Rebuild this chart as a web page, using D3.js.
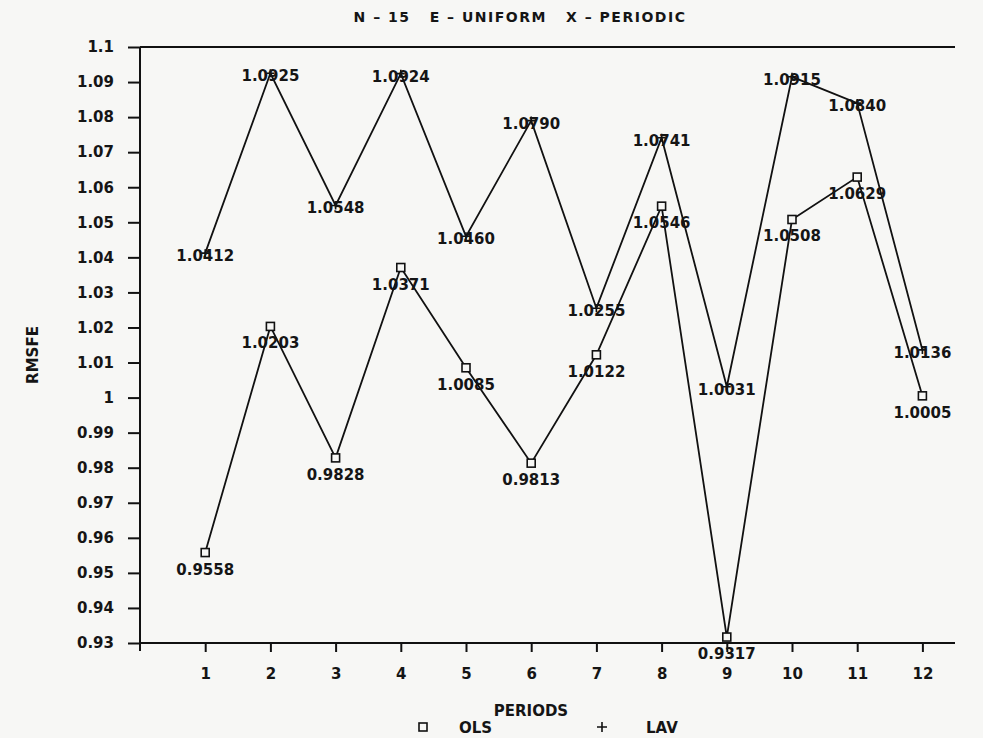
<!DOCTYPE html>
<html>
<head>
<meta charset="utf-8">
<script src="https://cdn.jsdelivr.net/npm/d3@7"></script>
<style>
  html, body { margin: 0; padding: 0; background: #f7f7f5; }
  svg { display: block; }
  text { fill: #151515; font-family: 'DejaVu Sans', sans-serif; font-weight: bold; }
</style>
</head>
<body>
<div id="chart"></div>
<script>
// Data
const periods = [1, 2, 3, 4, 5, 6, 7, 8, 9, 10, 11, 12];
const olsValues = [0.9558, 1.0203, 0.9828, 1.0371, 1.0085, 0.9813, 1.0122, 1.0546, 0.9317, 1.0508, 1.0629, 1.0005];
const lavValues = [1.0412, 1.0925, 1.0548, 1.0924, 1.0460, 1.0790, 1.0255, 1.0741, 1.0031, 1.0915, 1.0840, 1.0136];
const yTicks = [0.93, 0.94, 0.95, 0.96, 0.97, 0.98, 0.99, 1, 1.01, 1.02, 1.03, 1.04, 1.05, 1.06, 1.07, 1.08, 1.09, 1.1];
const TITLE = 'N \u2013 15   E \u2013 UNIFORM   X \u2013 PERIODIC';

const W = 983, H = 738;
const plot = { left: 140, right: 955, top: 47, bottom: 643 };
const FONT = '15px';

const svg = d3.select('#chart').append('svg')
  .attr('width', W).attr('height', H);

const x = d3.scaleLinear().domain([0, 12.5]).range([plot.left, plot.right]);
const y = d3.scaleLinear().domain([0.93, 1.1]).range([plot.bottom, plot.top]);

// Title
svg.append('text')
  .attr('x', 520).attr('y', 22)
  .attr('text-anchor', 'middle')
  .attr('font-size', '14px')
  .attr('letter-spacing', '1.5px')
  .attr('xml:space', 'preserve')
  .text(TITLE);

// Y axis
const yAxis = svg.append('g')
  .attr('transform', `translate(${plot.left},0)`)
  .call(d3.axisLeft(y).tickValues(yTicks)
    .tickFormat(d => String(+d.toFixed(2)))
    .tickSizeInner(12).tickSizeOuter(0).tickPadding(14));
yAxis.attr('font-family', null).attr('font-size', null);
yAxis.selectAll('text').attr('font-size', FONT).attr('fill', '#151515');
yAxis.selectAll('line, path').attr('stroke', '#111').attr('stroke-width', 2);
yAxis.select('.domain').attr('d', `M0,${plot.top}V${plot.bottom + 8}`);

// X axis
const xAxis = svg.append('g')
  .attr('transform', `translate(0,${plot.bottom})`)
  .call(d3.axisBottom(x).tickValues(periods)
    .tickSizeInner(9).tickSizeOuter(0).tickPadding(16));
xAxis.attr('font-family', null).attr('font-size', null);
xAxis.selectAll('text').attr('font-size', FONT).attr('fill', '#151515');
xAxis.selectAll('line, path').attr('stroke', '#111').attr('stroke-width', 2);
xAxis.select('.domain').attr('d', `M${plot.left},0H${plot.right}`);

// Top frame line
svg.append('line')
  .attr('x1', plot.left).attr('x2', plot.right)
  .attr('y1', y(1.1)).attr('y2', y(1.1))
  .attr('stroke', '#111').attr('stroke-width', 2);

// Axis titles
svg.append('text')
  .attr('transform', `translate(38,355) rotate(-90)`)
  .attr('text-anchor', 'middle')
  .attr('font-size', FONT)
  .text('RMSFE');

svg.append('text')
  .attr('x', 531).attr('y', 716)
  .attr('text-anchor', 'middle')
  .attr('font-size', FONT)
  .text('PERIODS');

const line = d3.line().x((d, i) => x(periods[i])).y(d => y(d));

// LAV series
svg.append('path')
  .datum(lavValues)
  .attr('d', line)
  .attr('fill', 'none').attr('stroke', '#111').attr('stroke-width', 1.8);

svg.selectAll('.lav-mark')
  .data(lavValues)
  .join('path')
  .attr('class', 'lav-mark')
  .attr('d', (d, i) => `M${x(periods[i]) - 4},${y(d)}h8M${x(periods[i])},${y(d) - 4}v8`)
  .attr('stroke', '#111').attr('stroke-width', 1.6);

svg.selectAll('.lav-label')
  .data(lavValues)
  .join('text')
  .attr('class', 'lav-label')
  .attr('x', (d, i) => x(periods[i]))
  .attr('y', d => y(d) + 8)
  .attr('text-anchor', 'middle')
  .attr('font-size', FONT)
  .text(d => d.toFixed(4));

// OLS series
svg.append('path')
  .datum(olsValues)
  .attr('d', line)
  .attr('fill', 'none').attr('stroke', '#111').attr('stroke-width', 1.8);

svg.selectAll('.ols-mark')
  .data(olsValues)
  .join('rect')
  .attr('class', 'ols-mark')
  .attr('x', (d, i) => x(periods[i]) - 4)
  .attr('y', d => y(d) - 4)
  .attr('width', 8).attr('height', 8)
  .attr('fill', '#f7f7f5').attr('stroke', '#111').attr('stroke-width', 1.6);

svg.selectAll('.ols-label')
  .data(olsValues)
  .join('text')
  .attr('class', 'ols-label')
  .attr('x', (d, i) => x(periods[i]))
  .attr('y', d => y(d) + 22)
  .attr('text-anchor', 'middle')
  .attr('font-size', FONT)
  .text(d => d.toFixed(4));

// Legend
const legend = svg.append('g');
legend.append('rect')
  .attr('x', 419).attr('y', 723).attr('width', 8).attr('height', 8)
  .attr('fill', 'none').attr('stroke', '#111').attr('stroke-width', 1.6);
legend.append('text')
  .attr('x', 459).attr('y', 733).attr('font-size', FONT).text('OLS');
legend.append('path')
  .attr('d', 'M597,727h10M602,722v10')
  .attr('stroke', '#111').attr('stroke-width', 1.6);
legend.append('text')
  .attr('x', 646).attr('y', 733).attr('font-size', FONT).text('LAV');
</script>
</body>
</html>
